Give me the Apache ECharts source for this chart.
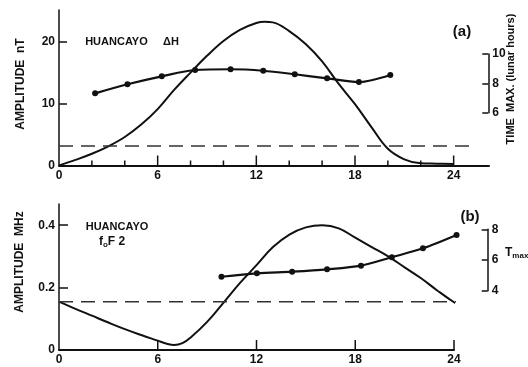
<!DOCTYPE html>
<html>
<head>
<meta charset="utf-8">
<script src="https://cdn.jsdelivr.net/npm/echarts@6/dist/echarts.min.js"></script>
<style>
    html, body { margin: 0; padding: 0; background: #fff; }
    #chart { width: 528px; height: 367px; }
</style>
</head>
<body>
<div id="chart"></div>
<script>

    // panel (a): Huancayo delta H, amplitude in nT
    var dhHours = [0, 1, 2, 3, 4, 5, 6, 7, 8, 9, 10, 11, 12, 12.5, 13, 14, 15, 16, 17, 18, 19, 20, 21, 22, 23, 24];
    var dhAmp = [0, 0.9, 1.9, 3.1, 4.6, 6.6, 9.1, 12.2, 15.0, 17.7, 20.1, 21.9, 23.0, 23.2, 23.1, 21.7, 19.6, 16.8, 13.2, 9.9, 6.2, 2.7, 1.0, 0.35, 0.3, 0.25];
    var dhLevel = 3.15;
    var dhLevelEnd = 25;

    // panel (a): time of maximum, lunar hours
    var dhMaxHours = [2.2, 4.17, 6.26, 8.29, 10.45, 12.44, 14.36, 16.33, 18.27, 20.18];
    var dhMaxTime = [7.32, 7.94, 8.48, 8.91, 8.96, 8.86, 8.62, 8.34, 8.09, 8.57];

    // panel (b): Huancayo foF2, amplitude in MHz
    var foHours = [0, 1, 2, 3, 4, 5, 6, 6.5, 7, 7.5, 8, 9, 10, 11, 12, 13, 14, 15, 16, 17, 18, 19, 20, 21, 22, 23, 24, 24.4];
    var foAmp = [0.155, 0.132, 0.11, 0.088, 0.067, 0.048, 0.03, 0.021, 0.016, 0.022, 0.04, 0.09, 0.152, 0.215, 0.272, 0.33, 0.37, 0.393, 0.40, 0.39, 0.36, 0.33, 0.30, 0.265, 0.23, 0.19, 0.153, 0.142];
    var foLevel = 0.155;
    var foLevelEnd = 24.4;

    // panel (b): tau max
    var foMaxHours = [9.91, 12.07, 14.22, 16.35, 18.42, 20.3, 22.2, 24.25];
    var foMaxTime = [4.91, 5.13, 5.24, 5.39, 5.63, 6.18, 6.76, 7.63];

    // ticks and labels
    var hourLabels = [0, 6, 12, 18, 24];
    var hourMajorTicks = [6, 12, 18, 24];
    var hourMinorTicks = [2, 4, 8, 10, 14, 16, 20, 22];
    var nTLabels = [0, 10, 20];
    var nTTicks = [10, 20];
    var lunarTicks = [6, 8, 10];
    var mhzLabels = [0, 0.2, 0.4];
    var mhzTicks = [0.2, 0.4];
    var tauTicks = [4, 6, 8];

    var INK = '#111';
    var FONT = 'Liberation Sans';

    function zip(xs, ys) {
        var out = [];
        for (var i = 0; i < xs.length; i++) {
            out.push([xs[i], ys[i]]);
        }
        return out;
    }

    function labelStyle(values, formatter) {
        return {
            customValues: values,
            color: INK,
            fontFamily: FONT,
            fontWeight: 'bold',
            fontSize: 12,
            margin: 4,
            formatter: formatter
        };
    }

    function tickStyle(values, len) {
        return {
            show: true,
            inside: true,
            length: len,
            customValues: values,
            lineStyle: { color: INK, width: 1.5 }
        };
    }

    function hiddenX(grid) {
        return {
            gridIndex: grid, type: 'value', min: 0, max: 26.15, show: false
        };
    }

    /**
     * upward hour ticks drawn on the axis line through the axis scale
     *
     * @param {number} xi   x axis index
     * @param {number} yi   y axis index
     * @param {number[]} hours tick hours
     * @param {number} len  tick length in px
     * @return {Object} custom series
     */
    function hourTicks(xi, yi, hours, len) {
        var data = [];
        for (var i = 0; i < hours.length; i++) {
            data.push([hours[i], 0]);
        }
        return {
            type: 'custom',
            xAxisIndex: xi,
            yAxisIndex: yi,
            clip: false,
            silent: true,
            data: data,
            renderItem: function (params, api) {
                var p = api.coord([api.value(0), 0]);
                return {
                    type: 'line',
                    shape: { x1: p[0], y1: p[1], x2: p[0], y2: p[1] - len },
                    style: { stroke: INK, lineWidth: 1.5 }
                };
            }
        };
    }

    // short right-hand scale drawn as a bracket
    function bracketY(grid, lo, hi, ticks) {
        return {
            gridIndex: grid,
            type: 'value',
            position: 'right',
            min: lo,
            max: hi,
            axisLine: { show: true, onZero: false, lineStyle: { color: INK, width: 1.5 } },
            axisTick: tickStyle(ticks, 6),
            axisLabel: labelStyle(ticks),
            splitLine: { show: false }
        };
    }

    function text(x, y, str, size, rotate, extra) {
        var t = {
            type: 'text',
            x: x,
            y: y,
            rotation: rotate || 0,
            style: {
                text: str,
                fill: INK,
                font: 'bold ' + size + 'px "' + FONT + '"',
                align: 'center',
                verticalAlign: 'middle'
            }
        };
        if (extra) {
            t.style.rich = extra;
        }
        return t;
    }

    var plain = { color: INK, width: 2 };
    var dashed = { color: '#333', width: 1.5, type: [14, 8] };

    var chart = echarts.init(document.getElementById('chart'));
    chart.setOption({
        animation: false,
        backgroundColor: '#fff',
        grid: [
            { left: 59, right: 39, top: 10, bottom: 201.5, outerBoundsMode: 'none' },
            { left: 59, right: 39.7, top: 54, height: 58.7, outerBoundsMode: 'none' },
            { left: 59, right: 74, top: 204, bottom: 17, outerBoundsMode: 'none' },
            { left: 59, right: 40.3, top: 229.3, height: 61.4, outerBoundsMode: 'none' }
        ],
        xAxis: [
            {
                gridIndex: 0, type: 'value', min: 0, max: 26.15, position: 'bottom',
                axisLine: { onZero: false, lineStyle: { color: INK, width: 2 } },
                axisTick: { show: false },
                axisLabel: labelStyle(hourLabels),
                splitLine: { show: false }
            },
            hiddenX(1),
            {
                gridIndex: 2, type: 'value', min: 0, max: 24, position: 'bottom',
                axisLine: { onZero: false, lineStyle: { color: INK, width: 2 } },
                axisTick: { show: false },
                axisLabel: labelStyle(hourLabels),
                splitLine: { show: false }
            },
            hiddenX(3)
        ],
        yAxis: [
            {
                gridIndex: 0, type: 'value', min: 0, max: 25.1,
                axisLine: { show: true, onZero: false, lineStyle: { color: INK, width: 1.5 } },
                axisTick: tickStyle(nTTicks, 8),
                axisLabel: labelStyle(nTLabels),
                splitLine: { show: false }
            },
            bracketY(1, 6, 10, lunarTicks),
            {
                gridIndex: 2, type: 'value', min: 0, max: 0.468,
                axisLine: { show: true, onZero: false, lineStyle: { color: INK, width: 1.5 } },
                axisTick: tickStyle(mhzTicks, 9),
                axisLabel: labelStyle(mhzLabels, function (v) {
                    return v === 0 ? '0' : v.toFixed(1);
                }),
                splitLine: { show: false }
            },
            bracketY(3, 4, 8, tauTicks)
        ],
        series: [
            {
                type: 'line', xAxisIndex: 0, yAxisIndex: 0,
                data: zip(dhHours, dhAmp),
                smooth: 0.4, showSymbol: false, lineStyle: plain
            },
            {
                type: 'line', xAxisIndex: 0, yAxisIndex: 0,
                data: [[0, dhLevel], [dhLevelEnd, dhLevel]],
                showSymbol: false, lineStyle: dashed
            },
            {
                type: 'line', xAxisIndex: 1, yAxisIndex: 1,
                data: zip(dhMaxHours, dhMaxTime),
                smooth: 0.3, symbol: 'circle', symbolSize: 6,
                itemStyle: { color: INK }, lineStyle: { color: INK, width: 2.2 }
            },
            {
                type: 'line', xAxisIndex: 2, yAxisIndex: 2,
                data: zip(foHours, foAmp), clip: false,
                smooth: 0.4, showSymbol: false, lineStyle: plain
            },
            {
                type: 'line', xAxisIndex: 2, yAxisIndex: 2,
                data: [[0, foLevel], [foLevelEnd, foLevel]], clip: false,
                showSymbol: false, lineStyle: dashed
            },
            {
                type: 'line', xAxisIndex: 3, yAxisIndex: 3,
                data: zip(foMaxHours, foMaxTime), clip: false,
                smooth: 0.3, symbol: 'circle', symbolSize: 6,
                itemStyle: { color: INK }, lineStyle: { color: INK, width: 2.2 }
            },
            hourTicks(0, 0, hourMajorTicks, 10),
            hourTicks(0, 0, hourMinorTicks, 5),
            hourTicks(2, 2, hourMajorTicks, 10)
        ],
        graphic: [
            text(21, 84, 'AMPLITUDE  nT', 12, Math.PI / 2),
            text(20, 262, 'AMPLITUDE  MHz', 12, Math.PI / 2),
            text(511, 79, 'TIME  MAX. (lunar hours)', 11, Math.PI / 2),
            text(132, 42, 'HUANCAYO     \u0394H', 11),
            text(117, 227, 'HUANCAYO', 11),
            text(112, 242, '{b|f}{s|o}{b|F 2}', 11, 0, {
                b: { fill: INK, font: 'bold 12px "' + FONT + '"' },
                s: { fill: INK, font: 'bold 8px "' + FONT + '"', padding: [6, 0, 0, 0] }
            }),
            text(462, 32, '(a)', 15),
            text(470, 217, '(b)', 15),
            {
                type: 'text', x: 505, y: 246,
                style: {
                    text: '{b|T}{s|max}',
                    rich: {
                        b: { fill: INK, font: 'bold 12px "' + FONT + '"' },
                        s: { fill: INK, font: 'bold 8px "' + FONT + '"', padding: [6, 0, 0, 0] }
                    }
                }
            }
        ]
    });

</script>
</body>
</html>
